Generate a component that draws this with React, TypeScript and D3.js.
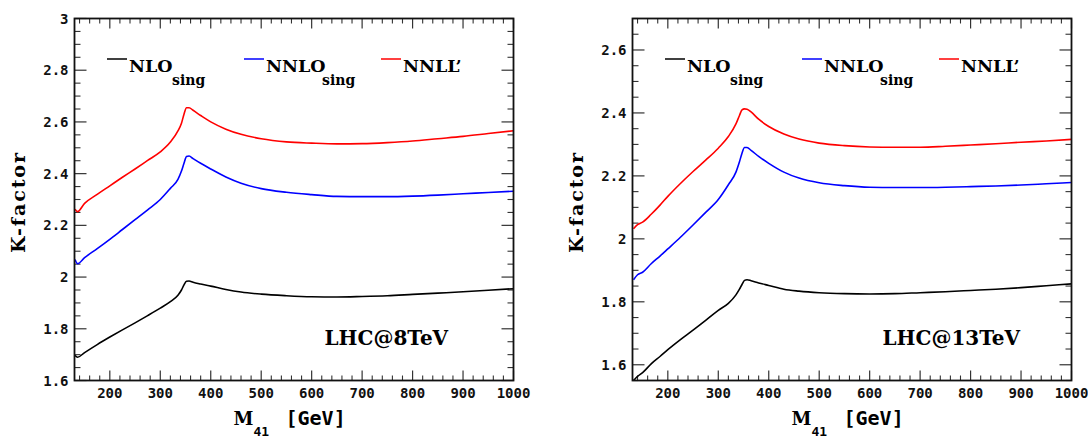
import React from "react";
import * as d3 from "d3";

// ---------- data ----------
const massL = [131, 136, 150, 175, 200, 225, 250, 275, 300, 320, 335, 342, 347, 352, 357, 365, 380, 400, 430, 460, 500, 550, 600, 650, 700, 750, 800, 850, 900, 950, 1000];
const nnllL = [2.262, 2.253, 2.285, 2.32, 2.353, 2.386, 2.418, 2.451, 2.484, 2.522, 2.565, 2.595, 2.63, 2.655, 2.655, 2.645, 2.625, 2.6, 2.572, 2.552, 2.535, 2.523, 2.518, 2.515, 2.516, 2.52, 2.526, 2.535, 2.544, 2.555, 2.566];
const nnloL = [2.068, 2.052, 2.075, 2.11, 2.146, 2.184, 2.222, 2.26, 2.3, 2.343, 2.378, 2.41, 2.44, 2.466, 2.468, 2.458, 2.44, 2.418, 2.387, 2.363, 2.342, 2.328, 2.319, 2.312, 2.311, 2.311, 2.313, 2.317, 2.322, 2.327, 2.332];
const nloL = [1.697, 1.69, 1.708, 1.739, 1.768, 1.796, 1.823, 1.851, 1.88, 1.905, 1.93, 1.95, 1.97, 1.984, 1.985, 1.98, 1.973, 1.965, 1.952, 1.942, 1.934, 1.928, 1.924, 1.923, 1.925, 1.928, 1.933, 1.938, 1.943, 1.949, 1.955];

const massR = [132, 140, 150, 167, 185, 200, 225, 250, 275, 300, 320, 335, 342, 347, 352, 357, 365, 380, 400, 430, 460, 500, 550, 600, 650, 700, 750, 800, 850, 900, 950, 1000];
const nnllR = [2.032, 2.045, 2.053, 2.078, 2.108, 2.135, 2.176, 2.214, 2.25, 2.288, 2.325, 2.365, 2.392, 2.41, 2.413, 2.412, 2.403, 2.38, 2.357, 2.333, 2.317, 2.304, 2.296, 2.292, 2.291, 2.291, 2.294, 2.298, 2.302, 2.307, 2.311, 2.316];
const nnloR = [1.87, 1.886, 1.894, 1.921, 1.946, 1.968, 2.005, 2.044, 2.084, 2.125, 2.172, 2.212, 2.245, 2.272, 2.29, 2.29, 2.281, 2.262, 2.24, 2.212, 2.193, 2.178, 2.169, 2.164, 2.163, 2.163, 2.164, 2.166, 2.168, 2.171, 2.175, 2.179];
const nloR = [1.55, 1.563, 1.575, 1.603, 1.627, 1.648, 1.68, 1.71, 1.741, 1.773, 1.795, 1.822, 1.84, 1.855, 1.868, 1.87, 1.867, 1.86, 1.852, 1.84, 1.834, 1.829, 1.826, 1.825, 1.826, 1.829, 1.832, 1.836, 1.84, 1.845, 1.851, 1.857];

const xMajorTicks = [200, 300, 400, 500, 600, 700, 800, 900, 1000];
const yTicksL = [1.6, 1.8, 2.0, 2.2, 2.4, 2.6, 2.8, 3.0];
const yTicksR = [1.6, 1.8, 2.0, 2.2, 2.4, 2.6];
const legendNames = ["NLO", "NNLO", "NNLL\u2019"];
const legendSubs = ["sing", "sing", ""];
const seriesColors = ["#000000", "#0000ff", "#ff0000"];

const SLAB = "'DejaVu Serif', 'Liberation Serif', serif";
const MONO_SANS = "'DejaVu Sans Mono', monospace";

// slab-serif text spread to a Courier-like monospaced width
function Slab({ x, y, size, width, children, anchor, transform }: any) {
  const s = String(children);
  return (
    <text
      x={x}
      y={y}
      transform={transform}
      textAnchor={anchor || "start"}
      fontFamily={SLAB}
      fontWeight="bold"
      fontSize={size}
      textLength={width}
      lengthAdjust={width ? "spacing" : undefined}
      fill="#000"
    >
      {s}
    </text>
  );
}

type PanelProps = {
  ox: number;
  yDomain: [number, number];
  yTicks: number[];
  mass: number[];
  series: number[][];
  label: string;
  id: string;
};

function Panel({ ox, yDomain, yTicks, mass, series, label, id }: PanelProps) {
  const left = ox, right = ox + 439, top = 18.5, bottom = 380.5;
  const x = d3.scaleLinear().domain([130, 1000]).range([left, right]);
  const y = d3.scaleLinear().domain(yDomain).range([bottom, top]);
  const line = d3
    .line<[number, number]>()
    .x((d) => x(d[0]))
    .y((d) => y(d[1]))
    .curve(d3.curveMonotoneX);

  const xMinor = d3.range(140, 1001, 20).filter((v) => v % 100 !== 0);
  const yMinor = d3
    .range(Math.round(yDomain[0] * 20), Math.round(yDomain[1] * 20) + 1)
    .map((v) => v / 20)
    .filter((v) => !yTicks.some((t) => Math.abs(t - v) < 1e-6));
  const fmt = (v: number) => String(+v.toFixed(2));
  const tickColor = "#333";
  const legendX = [0, 137, 274];
  const nameWidths = [40, 53, 62];

  return (
    <g>
      <defs>
        <clipPath id={id}>
          <rect x={left} y={top} width={right - left} height={bottom - top} />
        </clipPath>
      </defs>
      {xMajorTicks.map((v) => (
        <g key={"xm" + v}>
          <line x1={x(v)} x2={x(v)} y1={bottom} y2={bottom - 10} stroke={tickColor} strokeWidth={1.2} />
          <line x1={x(v)} x2={x(v)} y1={top} y2={top + 10} stroke={tickColor} strokeWidth={1.2} />
          <text x={x(v)} y={bottom + 17} textAnchor="middle" fontFamily={MONO_SANS} fontWeight="bold" fontSize={14} fill="#111">
            {v}
          </text>
        </g>
      ))}
      {xMinor.map((v) => (
        <g key={"xn" + v}>
          <line x1={x(v)} x2={x(v)} y1={bottom} y2={bottom - 5} stroke={tickColor} strokeWidth={1.1} />
          <line x1={x(v)} x2={x(v)} y1={top} y2={top + 5} stroke={tickColor} strokeWidth={1.1} />
        </g>
      ))}
      {yTicks.map((v) => (
        <g key={"ym" + v}>
          <line x1={left} x2={left + 12} y1={y(v)} y2={y(v)} stroke={tickColor} strokeWidth={1.2} />
          <line x1={right} x2={right - 12} y1={y(v)} y2={y(v)} stroke={tickColor} strokeWidth={1.2} />
          <text x={left - 6} y={y(v)} dy="0.36em" textAnchor="end" fontFamily={MONO_SANS} fontWeight="bold" fontSize={14} fill="#111">
            {fmt(v)}
          </text>
        </g>
      ))}
      {yMinor.map((v) => (
        <g key={"yn" + v}>
          <line x1={left} x2={left + 6} y1={y(v)} y2={y(v)} stroke={tickColor} strokeWidth={1.1} />
          <line x1={right} x2={right - 6} y1={y(v)} y2={y(v)} stroke={tickColor} strokeWidth={1.1} />
        </g>
      ))}
      <g clipPath={`url(#${id})`}>
        {series.map((s, i) => (
          <path
            key={"s" + i}
            d={line(mass.map((m, j) => [m, s[j]] as [number, number])) || ""}
            fill="none"
            stroke={seriesColors[i]}
            strokeWidth={1.6}
          />
        ))}
      </g>
      <rect x={left} y={top} width={right - left} height={bottom - top} fill="none" stroke="#111" strokeWidth={1.8} />
      {legendNames.map((name, i) => {
        const lx = left + 32.5 + legendX[i];
        return (
          <g key={"lg" + i}>
            <line x1={lx} x2={lx + 20} y1={59} y2={59} stroke={seriesColors[i]} strokeWidth={1.5} />
            <Slab x={lx + 22} y={72} size={17.5}>{name}</Slab>
            {legendSubs[i] && (
              <Slab x={lx + 22 + nameWidths[i] + 3} y={85} size={14}>{legendSubs[i]}</Slab>
            )}
          </g>
        );
      })}
      <Slab x={left + 250} y={345} size={20}>{label}</Slab>
      <Slab
        x={0}
        y={0}
        size={19}
        width={100}
        anchor="middle"
        transform={`translate(${left - 50},203) rotate(-90)`}
      >
        K-factor
      </Slab>
      <Slab x={left + 159} y={425} size={18}>M</Slab>
      <text x={left + 179} y={436} fontFamily={MONO_SANS} fontWeight="bold" fontSize={13} fill="#000">
        41
      </text>
      <text x={left + 211} y={425} fontFamily={MONO_SANS} fontWeight="bold" fontSize={20} fill="#000">
        [GeV]
      </text>
    </g>
  );
}

export default function App() {
  return (
    <svg width={1088} height={439} style={{ position: "absolute", left: 0, top: 0, background: "#fff" }}>
      <rect width={1088} height={439} fill="#fff" />
      <Panel ox={74.5} yDomain={[1.6, 3.0]} yTicks={yTicksL} mass={massL} series={[nloL, nnloL, nnllL]} label="LHC@8TeV" id="clipL" />
      <Panel ox={632.5} yDomain={[1.55, 2.7]} yTicks={yTicksR} mass={massR} series={[nloR, nnloR, nnllR]} label="LHC@13TeV" id="clipR" />
    </svg>
  );
}
